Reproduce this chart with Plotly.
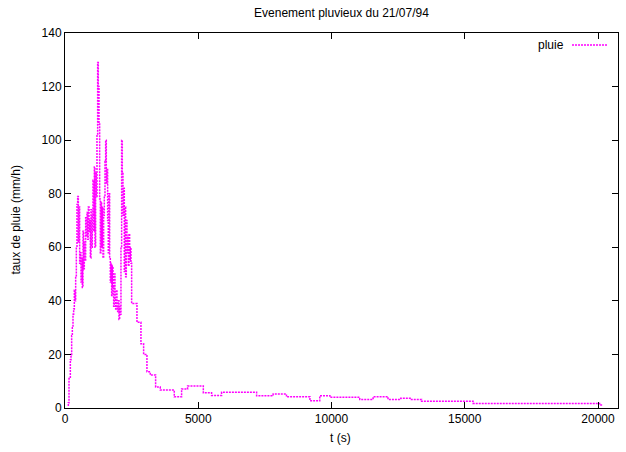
import plotly.graph_objects as go

# Rain-rate record (time in s, rate in mm/h)
t_storm = [100, 125, 150, 175, 200, 225, 250, 275, 300, 325, 350, 375, 400, 425, 450, 475,
           500, 525, 550, 575, 600, 625, 650, 675, 700, 725, 750, 775, 800, 825, 850, 875,
           900, 925, 950, 975, 1000, 1025, 1050, 1075, 1100, 1125, 1150, 1175, 1200, 1225,
           1250, 1275, 1300, 1325, 1350, 1375, 1400, 1425, 1450, 1475, 1500, 1525, 1550,
           1575, 1600, 1625, 1650, 1675, 1700, 1725, 1750, 1775, 1800, 1825, 1850, 1875,
           1900, 1925, 1950, 1975, 2000, 2025, 2050, 2075, 2100, 2125, 2150, 2175, 2200,
           2225, 2250, 2275, 2300, 2325, 2350, 2375, 2400, 2425, 2450, 2475, 2500]
rate_storm = [1, 2, 11, 11, 18, 20, 27, 30, 35, 37, 44, 40, 49, 60, 76, 79,
              62, 75, 54, 58, 47, 56, 45, 66, 52, 62, 55, 71, 64, 73, 63, 75,
              66, 70, 56, 74, 60, 72, 85, 66, 90, 60, 88, 79, 102, 129,
              120, 106, 78, 58, 77, 60, 75, 56, 72, 79, 92, 100, 84,
              89, 70, 58, 80, 56, 47, 54, 42, 53, 45, 38, 50, 41,
              37, 44, 38, 36, 40, 33, 38, 35, 60, 100, 88, 72, 82,
              51, 75, 49, 70, 58, 64, 53, 65, 55, 60, 54, 39]

t_tail = [2700, 2850, 2950, 3075, 3200, 3400, 3575, 4100, 4375, 4600, 5190, 5500, 5875,
          7190, 7810, 8310, 9190, 9560, 9940, 11060, 11560, 12120, 12600, 13000, 13380,
          15310, 20060, 20190]
rate_tail = [32, 24, 20, 13.5, 12.3, 7.8, 6.7, 4.2, 7.1, 8.2, 5.7, 4.7, 5.9,
             4.6, 5.2, 4.2, 2.7, 4.6, 4.0, 3.2, 4.2, 3.2, 3.6, 3.2, 2.5,
             1.7, 1.1, 1.1]

x_ticks = [0, 5000, 10000, 15000, 20000]
x_tick_labels = ["0", "5000", "10000", "15000", "20000"]
y_ticks = [0, 20, 40, 60, 80, 100, 120, 140]
y_tick_labels = ["0", "20", "40", "60", "80", "100", "120", "140"]

t = t_storm + t_tail
rate = rate_storm + rate_tail

MAG = "#ff00ff"
FONT = "Liberation Sans, Arial, sans-serif"
TXT = dict(family=FONT, size=12, color="black")

fig = go.Figure()
fig.add_trace(go.Scatter(
    x=t, y=rate, mode="lines", line_shape="hv", name="pluie",
    line=dict(color=MAG, width=1.5, dash="2px,1px"), showlegend=False,
    hoverinfo="skip",
))

axis_common = dict(
    showline=True, linecolor="black", linewidth=1, mirror="ticks",
    ticks="inside", ticklen=6, tickcolor="black", tickwidth=1,
    showgrid=False, zeroline=False, automargin=False,
    tickfont=TXT,
)

fig.update_layout(
    width=626, height=452,
    paper_bgcolor="white", plot_bgcolor="white",
    margin=dict(l=65, r=8, t=33, b=44, autoexpand=False),
    title=dict(text="Evenement pluvieux du 21/07/94", x=0.5, xanchor="center",
               xref="paper", yref="container", y=1 - 13 / 452, yanchor="middle",
               font=TXT),
    xaxis=dict(range=[0, 20750], tickvals=x_ticks, ticktext=x_tick_labels, **axis_common),
    yaxis=dict(range=[0, 140], tickvals=y_ticks, ticktext=y_tick_labels, **axis_common),
    showlegend=False,
)

# axis titles
fig.add_annotation(xref="paper", yref="paper", x=(15 - 65) / 553, y=0.5, text="taux de pluie (mm/h)",
                   textangle=-90, showarrow=False, xanchor="center", yanchor="middle", font=TXT)
fig.add_annotation(xref="paper", yref="paper", x=(340 - 65) / 553, y=(408 - 438) / 375, text="t (s)",
                   showarrow=False, xanchor="center", yanchor="middle", font=TXT)

# gnuplot-style key: label followed by line sample, top right
fig.add_annotation(xref="paper", yref="paper", x=(566 - 65) / 553, y=(408 - 45) / 375, text="pluie",
                   showarrow=False, xanchor="right", yanchor="middle", font=TXT)
fig.add_shape(type="line", xref="paper", yref="paper", x0=(572 - 65) / 553, x1=(607 - 65) / 553,
              y0=(408 - 45) / 375, y1=(408 - 45) / 375,
              line=dict(color=MAG, width=1.5, dash="2px,1px"))

fig.write_html("out.html", config={"displayModeBar": False, "staticPlot": True},
               post_script="document.body.style.margin='0';document.body.style.overflow='hidden';")
